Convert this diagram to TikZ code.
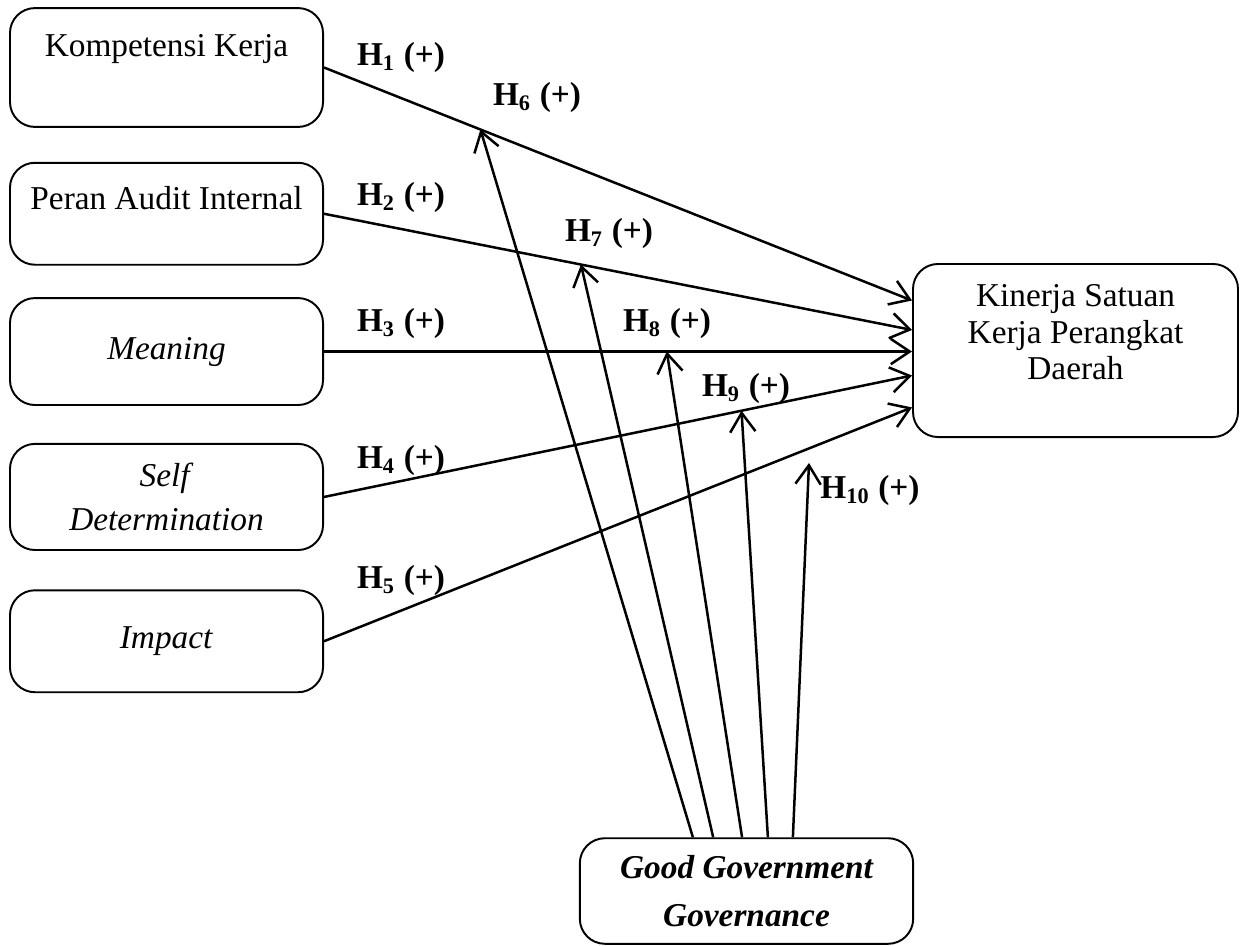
\documentclass[tikz,border=0pt]{standalone}
\usepackage{fontspec}
\setmainfont{Liberation Serif}
\usetikzlibrary{arrows.meta,positioning}
\tikzset{
 box/.style={draw,line width=0.7pt,rounded corners=9pt,align=center,
   font=\fontsize{12}{14.5}\selectfont,minimum width=112.7pt,inner sep=3pt},
 arr/.style={-{Straight Barb[length=2.4mm,width=3.2mm]},line width=0.9pt},
 hyp/.style={font=\bfseries\fontsize{12}{14.5}\selectfont,inner sep=1pt}
}
\begin{document}
\begin{tikzpicture}[x=0.36pt,y=-0.36pt,node distance=13pt]
\useasboundingbox (0,0) rectangle (1244,946);
\node[box,minimum height=42.8pt] (komp) at (166.5,67.5) {Kompetensi Kerja\\[1.7pt]~};
\node[box,minimum height=36.7pt,below=12.2pt of komp] (audit) {Peran Audit Internal\\[-3pt]~};
\node[box,minimum height=38.5pt,below=11.3pt of audit] (mean) {\textit{Meaning}};
\node[box,minimum height=38.2pt,below=13.3pt of mean] (self) {\textit{Self}\\[1.5pt]\textit{Determination}};
\node[box,minimum height=36.7pt,below=13.8pt of self] (imp) {\textit{Impact}};
\node[box,minimum width=117pt,minimum height=62.3pt] (kin) at (1075.5,350.5) {Kinerja Satuan\\[-1.4pt]Kerja Perangkat\\[-1.4pt]Daerah\\[-1.4pt]~};
\node[box,minimum width=120pt,minimum height=38pt,font=\bfseries\itshape\fontsize{12}{14.5}\selectfont] (ggg) at (746.5,891) {Good Government\\[2.5pt]Governance};
% direct effects
\draw[arr] (komp.east) -- coordinate[pos=0.266] (c6) ([yshift=18pt]kin.west);
\draw[arr] (audit.east) -- coordinate[pos=0.437] (c7) ([yshift=7.4pt]kin.west);
\draw[arr] (mean.east) -- coordinate[pos=0.583] (c8) (mean.east -| kin.west);
\draw[arr] (self.east) -- coordinate[pos=0.71] (c9) ([yshift=-9pt]kin.west);
\draw[arr] (imp.east) -- ([yshift=-20.5pt]kin.west);
\coordinate (c10) at (809,463);
% moderation
\draw[arr] ([xshift=-19.3pt]ggg.north) -- (c6);
\draw[arr] ([xshift=-12pt]ggg.north) -- (c7);
\draw[arr] ([xshift=-1.6pt]ggg.north) -- (c8);
\draw[arr] ([xshift=7.7pt]ggg.north) -- (c9);
\draw[arr] ([xshift=16.7pt]ggg.north) -- (c10);
% hypothesis labels
\node[hyp] (h1) at (401,57) {H\textsubscript{1} (+)};
\node[hyp] (h2) at (401,197) {H\textsubscript{2} (+)};
\node[hyp] (h3) at (401,323) {H\textsubscript{3} (+)};
\node[hyp] (h4) at (401,460) {H\textsubscript{4} (+)};
\node[hyp] (h5) at (401,580) {H\textsubscript{5} (+)};
\node[hyp] (h6) at (537,97) {H\textsubscript{6} (+)};
\node[hyp] (h7) at (609,233) {H\textsubscript{7} (+)};
\node[hyp] (h8) at (667,323) {H\textsubscript{8} (+)};
\node[hyp] (h9) at (746,388) {H\textsubscript{9} (+)};
\node[hyp] (h10) at (870,490) {H\textsubscript{10} (+)};
\end{tikzpicture}
\end{document}
